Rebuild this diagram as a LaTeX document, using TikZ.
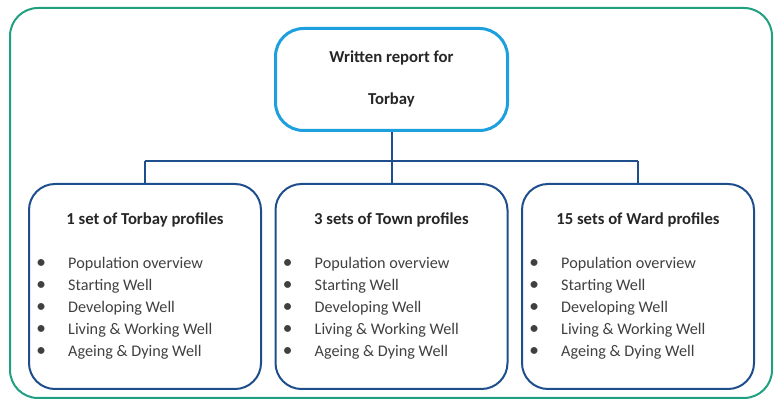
\documentclass[tikz,border=0pt]{standalone}
\usepackage{fontspec}
\setmainfont{Carlito}
\definecolor{frame}{RGB}{32,160,128}
\definecolor{sky}{RGB}{30,160,222}
\definecolor{navy}{RGB}{31,78,140}
\definecolor{ink}{RGB}{64,64,64}
\tikzset{
  report/.style={draw=sky, line width=3pt, rounded corners=28pt, minimum width=232pt, minimum height=102pt},
  profile/.style={draw=navy, line width=2pt, rounded corners=26pt, minimum width=232pt, minimum height=205pt},
  link/.style={draw=navy, line width=2pt},
  head/.style={font=\fontsize{16.7}{19}\selectfont\bfseries, text=black!85},
  item/.style={font=\fontsize{16.2}{19}\selectfont, text=ink, anchor=west, inner sep=0pt}
}
\begin{document}
\begin{tikzpicture}[x=1pt,y=-1pt]
\useasboundingbox (0,0) rectangle (780,403);
\draw[frame, line width=2pt, rounded corners=28pt] (10,8) rectangle (772,398);
\node[report] (rep) at (391.5,79.5) {};
\node[head] (rep1) at (391.5,58) {Written report for};
\node[head] (rep2) at (391.5,100) {Torbay};
\coordinate (hub) at (391.5,161);
\coordinate (hl) at (145,161);
\coordinate (hr) at (638,161);
\draw[link] (rep.south) -- (hub);
\draw[link] (hl) -- (hr);
\foreach \n/\cx/\lab in {tor/145/1 set of Torbay profiles, town/391.5/3 sets of Town profiles, ward/638/15 sets of Ward profiles}
{
\node[profile] (\n) at (\cx,286.5) {};
\node[head] (\n-head) at (\cx,220) {\lab};
\draw[link] (\cx,161) -- (\n.north);
\foreach \t [count=\k from 0] in {Population overview, Starting Well, Developing Well, Living \& Working Well, Ageing \& Dying Well}
{
\node[item] (\n-dot-\k) at ({\cx-108},{264+22*\k}) {\bfseries •};
\node[item] (\n-it-\k) at ({\cx-77},{264+22*\k}) {\t};
}
}
\end{tikzpicture}
\end{document}
